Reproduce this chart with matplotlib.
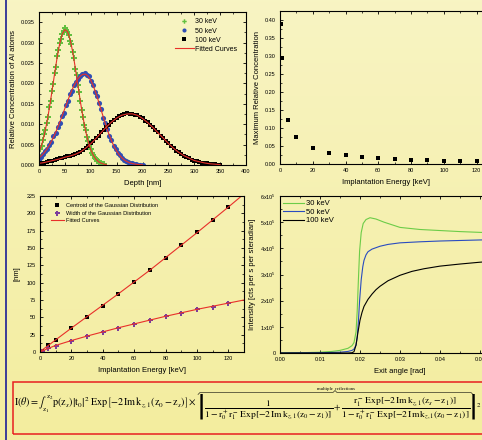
import numpy as np
import matplotlib.pyplot as plt
from matplotlib.ticker import MultipleLocator, FormatStrFormatter, FixedLocator, FixedFormatter
from matplotlib.lines import Line2D
from matplotlib.patches import Rectangle

# --- depth profiles (relative concentration of Al atoms) ---
depth_30 = np.arange(0, 126, 2.5)
conc_30 = [0.0025, 0.0038, 0.0047, 0.0062, 0.0075, 0.0086, 0.0104, 0.0118, 0.0142, 0.0157,
           0.0181, 0.0198, 0.0225, 0.0240, 0.0266, 0.0281, 0.0300, 0.0308, 0.0322, 0.0328,
           0.0335, 0.0331, 0.0326, 0.0318, 0.0305, 0.0297, 0.0276, 0.0262, 0.0236, 0.0221,
           0.0196, 0.0178, 0.0156, 0.0134, 0.0118, 0.0098, 0.0085, 0.0069, 0.0058, 0.0046,
           0.0038, 0.0029, 0.0024, 0.0018, 0.0014, 0.0010, 0.0008, 0.0006, 0.0004, 0.0003, 0.0002]
depth_50 = np.arange(0, 201, 4)
conc_50 = [0.0012, 0.0020, 0.0027, 0.0034, 0.0040, 0.0049, 0.0057, 0.0070, 0.0078, 0.0093,
           0.0102, 0.0120, 0.0128, 0.0148, 0.0158, 0.0174, 0.0182, 0.0196, 0.0203, 0.0212,
           0.0217, 0.0222, 0.0225, 0.0220, 0.0217, 0.0206, 0.0197, 0.0180, 0.0170, 0.0152,
           0.0138, 0.0116, 0.0102, 0.0088, 0.0072, 0.0062, 0.0047, 0.0039, 0.0030, 0.0024,
           0.0018, 0.0013, 0.0010, 0.0007, 0.0005, 0.0004, 0.0003, 0.0002, 0.0001, 0.0001, 0.0000]
depth_100 = np.arange(0, 351, 5)
conc_100 = [0.0003, 0.0005, 0.0006, 0.0008, 0.0009, 0.0011, 0.0012, 0.0014, 0.0016, 0.0017,
            0.0019, 0.0021, 0.0023, 0.0024, 0.0027, 0.0029, 0.0033, 0.0036, 0.0042, 0.0046,
            0.0053, 0.0058, 0.0066, 0.0071, 0.0080, 0.0086, 0.0094, 0.0098, 0.0106, 0.0110,
            0.0116, 0.0119, 0.0123, 0.0124, 0.0127, 0.0125, 0.0126, 0.0123, 0.0123, 0.0118,
            0.0115, 0.0109, 0.0105, 0.0097, 0.0093, 0.0085, 0.0080, 0.0072, 0.0066, 0.0059,
            0.0054, 0.0046, 0.0042, 0.0035, 0.0031, 0.0027, 0.0023, 0.0019, 0.0017, 0.0013,
            0.0011, 0.0009, 0.0008, 0.0006, 0.0005, 0.0004, 0.0003, 0.0002, 0.0002, 0.0001, 0.0001]

# fitted curves
fit_depth_30 = np.arange(0, 131, 5)
fit_30 = [0.00315, 0.00489, 0.00725, 0.01027, 0.01391, 0.01800, 0.02227, 0.02633, 0.02975,
          0.03213, 0.03317, 0.03272, 0.03085, 0.02780, 0.02394, 0.01971, 0.01550, 0.01166,
          0.00838, 0.00575, 0.00378, 0.00237, 0.00142, 0.00081, 0.00045, 0.00023, 0.00011]
fit_depth_50 = np.arange(0, 201, 5)
fit_50 = [0.00175, 0.00231, 0.00302, 0.00387, 0.00488, 0.00605, 0.00738, 0.00886, 0.01046,
          0.01214, 0.01387, 0.01559, 0.01723, 0.01874, 0.02005, 0.02109, 0.02184, 0.02223,
          0.02226, 0.02177, 0.02079, 0.01936, 0.01761, 0.01562, 0.01353, 0.01143, 0.00942,
          0.00758, 0.00596, 0.00457, 0.00341, 0.00249, 0.00177, 0.00123, 0.00084, 0.00055,
          0.00036, 0.00023, 0.00014, 0.00008, 0.00005]
fit_depth_100 = np.arange(0, 351, 10)
fit_100 = [0.0004, 0.0006, 0.0009, 0.0012, 0.0015, 0.0019, 0.0022, 0.0026, 0.0032, 0.0041,
           0.0052, 0.0065, 0.0079, 0.0093, 0.0105, 0.0115, 0.0122, 0.0125, 0.01255, 0.0122,
           0.0114, 0.0104, 0.0092, 0.0079, 0.0066, 0.0053, 0.0041, 0.0031, 0.0023, 0.0017,
           0.0011, 0.0008, 0.0005, 0.0003, 0.0002, 0.0001]

# --- maximum concentration vs energy ---
energy_max = [0.5, 1, 5, 10, 20, 30, 40, 50, 60, 70, 80, 90, 100, 110, 120]
max_conc = [0.388, 0.295, 0.121, 0.076, 0.044, 0.030, 0.024, 0.019, 0.017, 0.014,
            0.012, 0.011, 0.009, 0.008, 0.008]

# --- centroid / width of the gaussian ---
energy_cw = [1, 5, 10, 20, 30, 40, 50, 60, 70, 80, 90, 100, 110, 120]
centroid = [2, 10.5, 18, 34, 50, 66.5, 83.5, 100.5, 118, 135.5, 155, 173, 191, 209]
width = [1.5, 5.5, 9, 16, 23.5, 29, 35, 41, 46, 51.5, 56.5, 62, 65.5, 70]
energy_cfit = [0, 10, 20, 30, 40, 50, 60, 70, 80, 90, 100, 110, 120, 130]
centroid_fit = [0.5, 17.5, 34.5, 51, 67.5, 84, 101, 118, 136, 154, 172, 190.5, 209, 228]
energy_wfit = [0, 5, 10, 20, 30, 40, 50, 60, 70, 80, 90, 100, 110, 120, 130]
width_fit = [0, 5, 9.5, 16.5, 23, 29, 35, 40.5, 46, 51.5, 56.5, 61.5, 66, 70.5, 75]

# --- intensity vs exit angle (units of 1e5) ---
angle_30 = [0.0, 0.005, 0.010, 0.013, 0.015, 0.017, 0.018, 0.0185, 0.019, 0.0193, 0.0196,
            0.0199, 0.0203, 0.0208, 0.0215, 0.0225, 0.024, 0.026, 0.028, 0.030, 0.035,
            0.040, 0.045, 0.050, 0.055, 0.060]
int_30 = [0.0, 0.01, 0.03, 0.06, 0.10, 0.18, 0.28, 0.40, 0.8, 1.6, 2.8, 3.9, 4.6, 4.95,
          5.1, 5.17, 5.12, 5.0, 4.9, 4.8, 4.72, 4.68, 4.64, 4.61, 4.59, 4.57]
angle_50 = [0.0, 0.010, 0.015, 0.017, 0.018, 0.0185, 0.019, 0.0193, 0.0196, 0.0199, 0.0203,
            0.0207, 0.021, 0.0215, 0.022, 0.023, 0.025, 0.027, 0.030, 0.035, 0.040, 0.045,
            0.050, 0.055, 0.060]
int_50 = [0.0, 0.01, 0.03, 0.06, 0.10, 0.15, 0.3, 0.6, 1.2, 2.0, 2.8, 3.3, 3.54, 3.75,
          3.87, 3.97, 4.08, 4.15, 4.21, 4.25, 4.28, 4.30, 4.32, 4.33, 4.34]
angle_100 = [0.0, 0.017, 0.018, 0.0185, 0.019, 0.0195, 0.020, 0.0205, 0.021, 0.022, 0.023,
             0.024, 0.025, 0.027, 0.030, 0.033, 0.036, 0.040, 0.045, 0.050, 0.055, 0.060]
int_100 = [0.0, 0.0, 0.01, 0.05, 0.3, 0.8, 1.25, 1.55, 1.78, 2.05, 2.25, 2.42, 2.55, 2.76,
           2.97, 3.12, 3.22, 3.32, 3.40, 3.47, 3.52, 3.56]

green = '#62c040'
blue = '#2f4fb5'
red = '#e8302a'
purple = '#7a3d9c'

plt.rcParams.update({
    'font.family': 'Liberation Sans',
    'mathtext.fontset': 'custom',
    'mathtext.rm': 'Liberation Sans',
    'mathtext.it': 'Liberation Sans:italic',
    'mathtext.bf': 'Liberation Sans:bold',
    'axes.linewidth': 0.8,
    'axes.labelsize': 5.5,
    'xtick.labelsize': 4,
    'ytick.labelsize': 4,
    'xtick.direction': 'in',
    'ytick.direction': 'in',
    'xtick.top': True,
    'ytick.right': True,
    'xtick.major.size': 2.5,
    'ytick.major.size': 2.5,
    'xtick.minor.size': 1.3,
    'ytick.minor.size': 1.3,
    'xtick.major.width': 0.6,
    'ytick.major.width': 0.6,
    'xtick.minor.width': 0.5,
    'ytick.minor.width': 0.5,
    'xtick.major.pad': 3,
    'ytick.major.pad': 3,
})

W, H = 482, 440
fig = plt.figure(figsize=(W / 100, H / 100), dpi=100)

# yellow poster background
bg = fig.add_axes([0, 0, 1, 1], zorder=-5)
top_col = np.array([0.973, 0.957, 0.765])
bot_col = np.array([0.953, 0.929, 0.620])
g = np.linspace(0, 1, 256)[:, None, None]
bg.imshow(top_col * (1 - g) + bot_col * g, aspect='auto', extent=[0, 1, 0, 1])
bg.axis('off')
fig.add_artist(Line2D([6 / W, 6 / W], [0, 1], color='#3b3d98', lw=1.4))


def px_axes(left, top, right, bottom):
    return fig.add_axes([left / W, 1 - bottom / H, (right - left) / W, (bottom - top) / H],
                        facecolor='none')


# top-left: depth profiles
ax1 = px_axes(39, 12, 246, 165)
ax1.plot(depth_30, conc_30, 'P', color=green, ms=4.0, mew=0, label='30 keV')
ax1.plot(depth_50, conc_50, 'o', color=blue, ms=3.7, mew=0, label='50 keV')
ax1.plot(depth_100, conc_100, 's', color='black', ms=3.2, mew=0, label='100 keV')
ax1.plot(fit_depth_30, fit_30, color=red, lw=0.8, label='Fitted Curves')
ax1.plot(fit_depth_50, fit_50, color=red, lw=0.8)
ax1.plot(fit_depth_100, fit_100, color=red, lw=0.8)
ax1.set_xlim(0, 400)
ax1.set_ylim(0, 0.0375)
ax1.xaxis.set_major_locator(MultipleLocator(50))
ax1.xaxis.set_minor_locator(MultipleLocator(25))
ax1.yaxis.set_major_locator(MultipleLocator(0.005))
ax1.yaxis.set_minor_locator(MultipleLocator(0.0025))
ax1.yaxis.set_major_formatter(FormatStrFormatter('%.3f'))
ax1.set_xlabel('Depth [nm]', labelpad=4)
ax1.set_ylabel('Relative Concentration of Al atoms', labelpad=2.5)
ax1.legend(loc='upper left', bbox_to_anchor=(0.657, 0.958), frameon=False, fontsize=5,
           borderpad=0, borderaxespad=0, handlelength=2.7, handletextpad=0.25,
           labelspacing=0.3, numpoints=1, markerscale=0.8)

# top-right: maximum concentration
ax2 = px_axes(280, 11, 493, 164)
ax2.plot(energy_max, max_conc, 's', color='black', ms=3.0, mew=0)
ax2.set_xlim(0, 130)
ax2.set_ylim(0, 0.424)
ax2.xaxis.set_major_locator(MultipleLocator(20))
ax2.xaxis.set_minor_locator(MultipleLocator(10))
ax2.yaxis.set_major_locator(MultipleLocator(0.05))
ax2.yaxis.set_minor_locator(MultipleLocator(0.025))
ax2.yaxis.set_major_formatter(FormatStrFormatter('%.2f'))
ax2.set_xlabel('Implantation Energy [keV]', labelpad=4)
ax2.set_ylabel('Maximum Relative Concentration', labelpad=2.5)

# bottom-left: centroid and width
ax3 = px_axes(40, 196, 244, 352)
ax3.plot(energy_cw, centroid, 's', color='black', ms=3.0, mew=0,
         label='Centroid of the Gaussian Distribution')
ax3.plot(energy_cw, width, 'P', color=purple, ms=3.6, mew=0,
         label='Width of the Gaussian Distribution')
ax3.plot(energy_cfit, centroid_fit, color=red, lw=0.8, label='Fitted Curves')
ax3.plot(energy_wfit, width_fit, color=red, lw=0.8)
ax3.set_xlim(0, 130)
ax3.set_ylim(0, 225)
ax3.xaxis.set_major_locator(MultipleLocator(20))
ax3.xaxis.set_minor_locator(MultipleLocator(10))
ax3.yaxis.set_major_locator(MultipleLocator(25))
ax3.yaxis.set_minor_locator(MultipleLocator(12.5))
ax3.set_xlabel('Implantation Energy [keV]', labelpad=4)
ax3.set_ylabel('[nm]', labelpad=4)
ax3.legend(loc='upper left', bbox_to_anchor=(0.052, 0.955), frameon=False, fontsize=4.1,
           borderpad=0, borderaxespad=0, handlelength=2.3, handletextpad=0.4,
           labelspacing=0.45, numpoints=1)

# bottom-right: intensity vs exit angle
ax4 = px_axes(280, 196, 520, 353)
ax4.plot(angle_30, int_30, color='#6ccc48', lw=0.8, label='30 keV')
ax4.plot(angle_50, int_50, color='#2a4cc0', lw=0.8, label='50 keV')
ax4.plot(angle_100, int_100, color='black', lw=0.8, label='100 keV')
ax4.set_xlim(0, 0.06)
ax4.set_ylim(0, 6)
ax4.xaxis.set_major_locator(MultipleLocator(0.01))
ax4.xaxis.set_minor_locator(MultipleLocator(0.005))
ax4.xaxis.set_major_formatter(FormatStrFormatter('%.2f'))
ax4.yaxis.set_major_locator(FixedLocator([0, 1, 2, 3, 4, 5, 6]))
ax4.yaxis.set_major_formatter(FixedFormatter(['0'] + [r'%dx10$^5$' % k for k in range(1, 7)]))
ax4.yaxis.set_minor_locator(MultipleLocator(0.5))
ax4.set_xlabel('Exit angle [rad]', labelpad=4)
ax4.set_ylabel('Intensity [cts per s per steradian]', labelpad=3)
ax4.legend(loc='upper left', bbox_to_anchor=(0.011, 0.975), frameon=False, fontsize=5.5,
           borderpad=0, borderaxespad=0, handlelength=2.8, handletextpad=0.3,
           labelspacing=0.15)

# formula box
fig.add_artist(Rectangle((13 / W, 1 - 434 / H), 480 / W, 52 / H, fill=False,
                         edgecolor='#e82020', lw=1.1))
formula_a = (r'$\mathrm{I}(\theta)=\int_{\mathrm{z}_1}^{\mathrm{z}_2}\mathrm{p}(\mathrm{z}_s)'
             r'\left|\mathrm{t}_0\right|^2\ \mathrm{Exp}\left[-2\,\mathrm{Im}\,\mathrm{k}_{z,1}'
             r'(\mathrm{z}_0-\mathrm{z}_s)\right]\times$')
formula_b = (r'$\left|\dfrac{1}{1-\mathrm{r}_0^+\mathrm{r}_1^-'
             r'\,\mathrm{Exp}[-2\,\mathrm{Im}\,\mathrm{k}_{z,1}(\mathrm{z}_0-\mathrm{z}_1)]}+'
             r'\dfrac{\mathrm{r}_1^-\,\mathrm{Exp}[-2\,\mathrm{Im}\,\mathrm{k}_{z,1}'
             r'(\mathrm{z}_s-\mathrm{z}_1)]}{1-\mathrm{r}_0^+\mathrm{r}_1^-\,\mathrm{Exp}'
             r'[-2\,\mathrm{Im}\,\mathrm{k}_{z,1}(\mathrm{z}_0-\mathrm{z}_1)]}\right|^2$')
fig.text(14 / W, 1 - 404 / H, formula_a, fontsize=7.3, math_fontfamily='stix',
         ha='left', va='center')
fig.text(197 / W, 1 - 407 / H, formula_b, fontsize=6.8, math_fontfamily='stix',
         ha='left', va='center')
fig.text(336 / W, 1 - 388.5 / H, 'multiple  reflections', fontsize=3.3,
         family='Liberation Serif', ha='center', va='center')
brace_x = [198, 200, 333, 335, 337, 471, 473]
brace_y = [394.5, 392.5, 392.5, 390.5, 392.5, 392.5, 394.5]
fig.add_artist(Line2D([x / W for x in brace_x], [1 - y / H for y in brace_y],
                      color='black', lw=0.4))

fig.savefig('out.png', dpi=100)
